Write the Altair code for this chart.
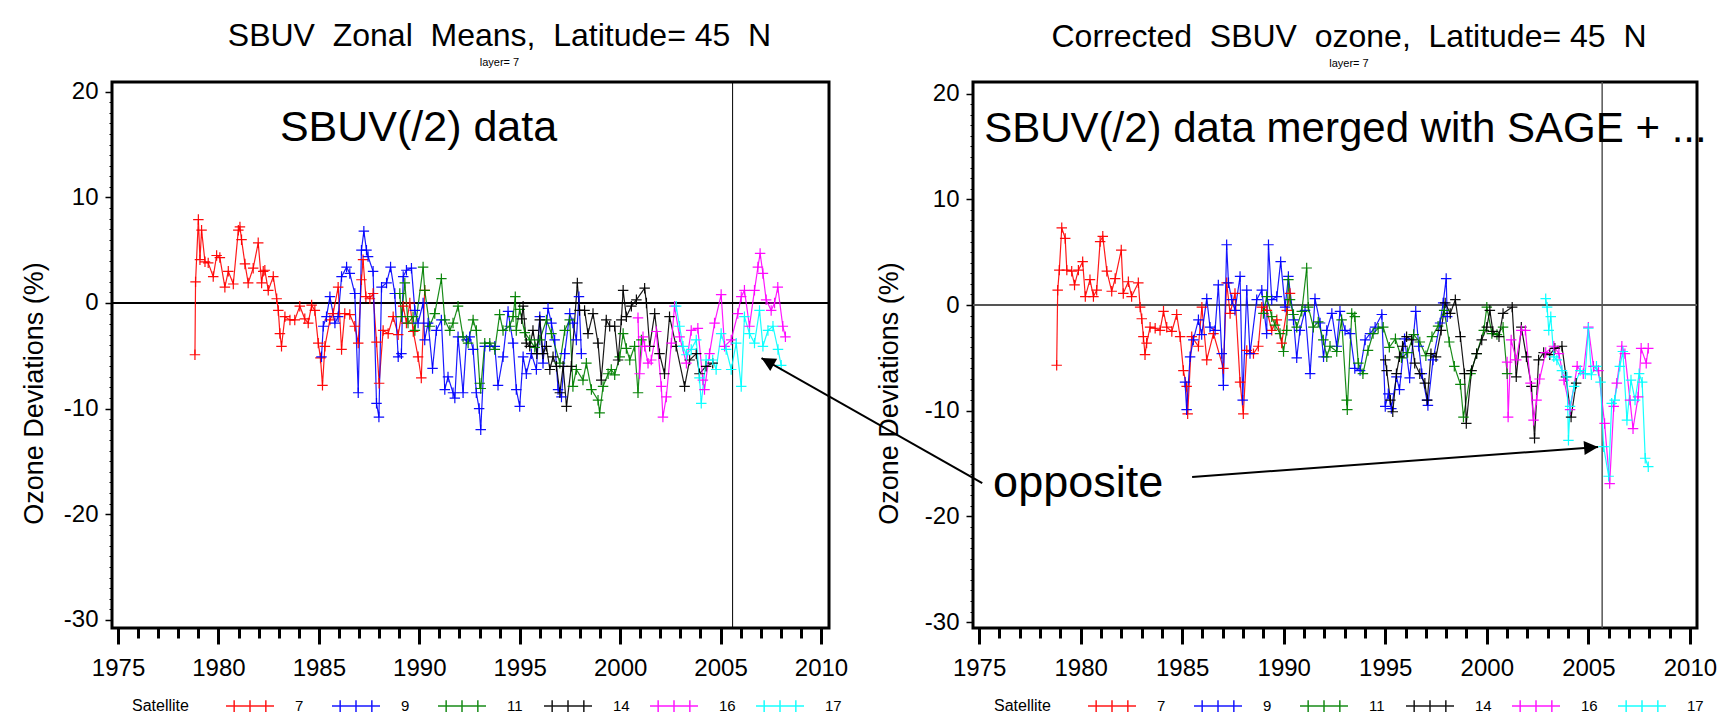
import altair as alt
import pandas as pd

FONT = "Liberation Sans"
SATS = ["7", "9", "11", "14", "16", "17"]
SAT_COLORS = ["#ff0000", "#0000ff", "#008000", "#000000", "#ff00ff", "#00ffff"]

# ---------------- left panel: SBUV zonal means ----------------
L7_T = [1978.83,1978.86,1979.0,1979.08,1979.16,1979.33,1979.49,1979.74,1979.91,1980.07,1980.32,1980.49,1980.74,1980.99,1981.07,1981.15,1981.32,1981.48,1981.73,1981.98,1982.15,1982.23,1982.31,1982.48,1982.73,1982.9,1982.98,1983.06,1983.14,1983.31,1983.56,1983.8,1984.05,1984.3,1984.47,1984.64,1984.8,1984.97,1985.08,1985.18,1985.3,1985.55,1985.71,1985.96,1986.13,1986.29,1986.54,1986.79,1986.96,1987.12,1987.2,1987.34,1987.54,1987.7,1987.87,1988.0,1988.2,1988.45,1988.7,1988.95,1989.2,1989.36,1989.53,1989.7,1989.94,1990.1,1990.27]
L7_V = [-4.9,2.0,7.9,4.1,6.9,3.9,3.8,2.5,4.5,4.3,1.5,3.0,1.8,6.9,7.2,6.0,3.7,1.9,3.3,5.7,1.9,3.0,3.1,1.2,2.5,0.4,-0.7,-2.9,-4.1,-1.3,-1.6,-1.6,-0.3,-1.5,-1.9,-0.2,-0.7,-3.8,-5.2,-7.8,-4.1,-1.6,-1.0,1.5,-4.4,-1.0,-1.1,-2.2,-3.8,2.2,4.1,0.6,0.4,0.9,-3.7,-7.6,-2.6,-2.9,-1.3,-3.0,-0.3,-1.9,0.0,-2.7,-5.1,-7.1,1.2]
L9_T = [1985.13,1985.22,1985.38,1985.55,1985.8,1985.96,1986.13,1986.38,1986.54,1986.79,1986.96,1987.12,1987.24,1987.37,1987.45,1987.7,1987.87,1987.99,1988.12,1988.37,1988.57,1988.78,1988.95,1989.11,1989.2,1989.36,1989.61,1989.78,1989.94,1990.19,1990.27,1990.44,1990.66,1990.85,1991.1,1991.27,1991.43,1991.68,1991.77,1991.93,1992.18,1992.35,1992.51,1992.68,1992.84,1992.98,1993.06,1993.26,1993.51,1993.76,1993.92,1994.17,1994.42,1994.67,1994.83,1995.0,1995.17,1995.33,1995.58,1995.83,1996.0,1996.16,1996.41,1996.58,1996.74,1996.91,1997.08,1997.24,1997.49,1997.65,1997.82,1997.95,1998.07]
L9_V = [-5.1,-2.2,-1.3,0.6,-1.9,-1.3,2.5,3.4,2.8,0.9,-8.5,5.0,6.8,5.0,4.4,3.0,-9.5,-10.8,1.5,1.9,3.4,0.9,-5.1,-4.8,2.5,3.1,3.3,-0.7,-1.9,0.0,-3.5,-1.9,-6.2,-2.6,-1.6,-8.2,-7.0,-8.5,-9.0,-3.2,-8.5,-3.5,-3.2,-4.4,-8.5,-10.0,-12.0,-4.1,-4.1,-4.1,-7.8,-5.1,-0.8,-3.8,-8.2,-9.8,-5.1,-6.7,-4.8,-6.3,-1.3,-5.7,-0.5,-1.9,-3.5,-8.2,-8.9,-4.8,-1.0,-1.9,-3.5,0.6,-4.8]
L11_T = [1989.03,1989.11,1989.28,1989.44,1989.69,1989.78,1990.19,1990.27,1990.52,1990.77,1991.1,1991.27,1991.52,1991.68,1991.93,1992.18,1992.43,1992.68,1992.84,1993.01,1993.06,1993.26,1993.51,1993.76,1994.0,1994.17,1994.5,1994.67,1994.78,1994.83,1995.0,1995.25,1995.5,1995.75,1996.0,1996.33,1996.58,1997.0,1997.24,1997.49,1997.65,1997.82,1998.15,1998.32,1998.57,1998.9,1998.98,1999.15,1999.4,1999.56,1999.73,1999.98,2000.15,2000.31,2000.48,2000.72,2000.89,2001.06]
L11_V = [0.9,-1.3,1.9,-1.9,-1.3,-2.6,3.4,1.2,-2.2,-1.0,2.3,-1.6,-2.6,-1.9,-0.3,-3.2,-3.8,-1.6,-2.6,-7.6,-8.1,-3.8,-3.8,-4.4,-1.1,-2.6,-2.2,-1.3,0.6,-2.6,-0.6,-2.8,-3.5,-4.2,-3.5,-1.6,-2.9,-5.7,-2.6,-1.6,-7.9,-6.3,-7.3,-5.7,-8.2,-9.2,-10.4,-7.9,-6.7,-6.3,-6.8,-5.1,-2.9,-4.3,-5.4,-4.1,-8.5,-3.5]
L14_T = [1995.1,1995.17,1995.33,1995.5,1995.66,1995.85,1996.0,1996.16,1996.33,1996.5,1996.66,1996.83,1997.0,1997.16,1997.33,1997.57,1997.87,1997.98,1998.23,1998.4,1998.65,1998.9,1999.06,1999.31,1999.48,1999.73,1999.9,2000.06,2000.15,2000.31,2000.56,2000.81,2001.22,2001.31,2001.47,2001.72,2001.96,2002.21,2002.46,2002.79,2003.21,2003.46,2003.79,2003.95,2004.28,2004.61]
L14_V = [-1.5,-0.3,-3.8,-4.1,-2.6,-4.8,-1.6,-4.8,-4.1,-6.3,-5.1,-6.0,-8.5,-6.0,-9.8,-6.0,1.9,-0.7,-0.7,-2.9,-1.0,-3.8,-7.3,-1.6,-2.2,-2.2,-5.4,-1.6,1.2,-1.3,-0.3,0.3,1.4,0.0,-4.1,-1.0,-4.8,-6.7,-1.3,-4.1,-7.9,-5.4,-4.8,-6.7,-6.0,-5.7]
L16_T = [2000.89,2000.97,2001.14,2001.22,2001.39,2001.55,2001.8,2002.05,2002.13,2002.3,2002.55,2002.71,2002.96,2003.3,2003.54,2003.87,2004.12,2004.2,2004.45,2004.7,2005.03,2005.2,2005.53,2005.86,2006.03,2006.19,2006.44,2006.69,2006.86,2006.97,2007.11,2007.27,2007.52,2007.69,2007.85,2008.1,2008.23]
L16_V = [-1.4,-6.7,-3.2,-4.1,-5.7,-5.4,-2.7,-7.9,-10.8,-8.9,-3.8,-0.3,-3.2,-5.7,-2.6,-2.4,-7.3,-8.2,-4.8,-1.9,0.8,-4.1,-3.5,-1.0,0.6,1.2,-2.2,1.2,3.4,4.7,2.8,0.3,-0.7,0.0,1.5,-2.2,-3.2]
L17_T = [2002.79,2002.96,2003.13,2003.3,2003.54,2003.79,2003.95,2004.04,2004.28,2004.61,2004.78,2005.03,2005.28,2005.53,2005.78,2006.03,2006.19,2006.44,2006.69,2006.94,2007.11,2007.36,2007.61,2007.86,2008.02]
L17_V = [-0.3,-2.2,-4.1,-4.9,-4.4,-3.5,-7.1,-9.5,-5.4,-5.4,-6.3,-2.9,-4.4,-6.3,-3.8,-7.9,-1.3,-2.9,-3.8,-0.7,-4.1,-2.6,-2.2,-4.4,-5.9]

# ---------------- right panel: corrected SBUV ozone ----------------
R7_T = [1978.82,1978.87,1978.95,1979.07,1979.24,1979.32,1979.56,1979.7,1979.89,1980.1,1980.23,1980.46,1980.63,1980.79,1980.96,1981.09,1981.29,1981.53,1981.7,1982.0,1982.1,1982.35,1982.51,1982.84,1982.93,1983.01,1983.09,1983.17,1983.25,1983.42,1983.67,1983.91,1984.08,1984.24,1984.49,1984.73,1984.9,1985.06,1985.22,1985.27,1985.47,1985.8,1985.97,1986.21,1986.54,1987.03,1987.19,1987.36,1987.6,1987.85,1988.01,1988.18,1988.51,1988.75,1988.92,1989.17,1989.41,1989.66,1989.9,1990.15,1990.31]
R7_V = [-5.7,1.4,3.3,7.3,6.3,3.3,3.2,1.9,3.3,4.1,0.8,2.4,0.8,1.4,6.0,6.5,3.2,1.3,2.5,5.2,1.1,2.2,0.8,2.1,-0.2,-1.3,-3.0,-4.7,-3.6,-2.1,-2.2,-2.4,-0.6,-2.1,-2.5,-0.9,-3.0,-6.2,-7.7,-10.3,-3.0,-3.9,-0.2,-5.2,-2.7,-6.0,2.1,-0.8,1.1,-7.3,-10.3,-4.3,-4.6,-3.9,-0.2,-0.5,-2.4,-1.4,-3.6,-0.5,1.1]
R9_T = [1985.14,1985.22,1985.39,1985.55,1985.8,1985.96,1986.21,1986.37,1986.62,1986.78,1986.95,1987.03,1987.19,1987.28,1987.44,1987.6,1987.85,1987.98,1988.18,1988.34,1988.67,1988.92,1989.16,1989.25,1989.41,1989.66,1989.85,1990.07,1990.23,1990.48,1990.64,1990.8,1991.05,1991.3,1991.54,1991.79,1991.96,1992.12,1992.37,1992.61,1992.77,1993.02,1993.27,1993.5,1993.76,1994.01,1994.25,1994.5,1994.83,1995.0,1995.15,1995.3,1995.55,1995.7,1995.95,1996.2,1996.5,1996.65,1996.8,1997.05,1997.1,1997.35,1997.7,1997.85,1998.0,1998.05]
R9_V = [-7.3,-9.9,-4.9,-3.3,-1.4,-2.8,0.6,-2.1,-2.4,1.9,-4.6,-7.6,5.7,2.1,0.5,-0.5,2.7,-9.0,1.4,-4.6,0.5,1.4,-2.7,5.7,0.5,0.8,4.1,-0.2,2.7,-1.4,-5.0,-2.4,-0.5,-6.5,0.6,-1.7,-4.9,-2.4,-0.8,-3.9,-0.6,-2.4,-2.7,-6.0,-6.2,-3.3,-2.7,-2.1,-0.9,-9.6,-8.4,-9.8,-6.8,-8.0,-3.2,-6.9,-0.6,-3.9,-6.5,-9.0,-9.5,-5.2,-1.7,0.2,2.5,-1.1]
R11_T = [1989.0,1989.16,1989.41,1989.57,1989.82,1989.99,1990.15,1990.23,1990.31,1990.48,1990.64,1990.89,1991.13,1991.21,1991.46,1991.7,1991.95,1992.12,1992.28,1992.61,1992.85,1993.1,1993.13,1993.35,1993.5,1993.67,1993.9,1994.15,1994.4,1994.65,1994.9,1995.2,1995.5,1995.8,1996.1,1996.4,1996.7,1997.0,1997.3,1997.6,1997.9,1998.15,1998.4,1998.7,1998.85,1999.2,1999.5,1999.85,2000.0,2000.25,2000.5,2000.8,2001.0]
R11_V = [-0.8,0.8,-1.1,-1.9,-2.7,-4.4,-2.4,2.4,0.5,-0.9,-2.1,-0.6,3.5,-0.2,-2.1,-1.6,-3.3,-4.9,-3.9,-4.4,-1.4,-9.0,-9.9,-0.8,-1.1,-5.5,-6.5,-4.3,-2.7,-2.2,-2.1,-4.0,-3.2,-5.0,-4.5,-2.8,-3.5,-4.8,-3.0,-2.0,-0.5,-3.5,-5.8,-7.5,-10.6,-6.5,-4.6,-2.4,-0.2,-2.7,-2.8,-2.1,-6.5]
R14_T = [1995.0,1995.07,1995.25,1995.37,1995.55,1995.7,1995.85,1996.05,1996.3,1996.45,1996.7,1996.95,1997.07,1997.25,1997.5,1997.75,1997.95,1998.2,1998.45,1998.7,1998.9,1998.99,1999.25,1999.5,1999.75,2000.0,2000.15,2000.3,2000.6,2000.8,2001.25,2001.45,2001.7,2001.95,2002.2,2002.35,2002.55,2002.8,2003.1,2003.35,2003.7,2003.9,2004.15,2004.4]
R14_V = [-5.2,-6.2,-9.0,-10.1,-6.5,-4.9,-3.9,-3.0,-3.3,-5.5,-6.5,-7.4,-9.0,-4.6,-4.9,-2.4,0.2,-0.8,0.5,-3.0,-6.5,-11.2,-6.2,-4.6,-3.3,-2.1,-0.5,-2.5,-3.0,-0.8,-0.2,-6.8,-2.1,-4.9,-7.7,-12.6,-5.2,-4.5,-4.7,-4.1,-3.9,-6.8,-10.6,-7.4]
R16_T = [2001.0,2001.05,2001.2,2001.45,2001.7,2001.9,2002.15,2002.3,2002.45,2002.6,2002.9,2003.3,2003.55,2003.8,2004.1,2004.45,2004.75,2005.0,2005.25,2005.5,2005.8,2006.05,2006.25,2006.4,2006.65,2006.8,2007.05,2007.2,2007.45,2007.6,2007.85,2007.95]
R16_V = [-5.4,-10.6,-3.3,-5.2,-2.4,-2.4,-7.4,-10.9,-9.0,-7.0,-4.5,-3.9,-4.6,-7.1,-9.9,-5.8,-6.5,-2.1,-5.8,-6.2,-11.2,-16.9,-9.6,-7.4,-3.9,-4.6,-9.0,-11.7,-8.7,-4.1,-5.5,-4.1]
R17_T = [2002.9,2002.97,2003.05,2003.15,2003.3,2003.45,2003.7,2003.95,2004.02,2004.1,2004.3,2004.6,2004.85,2005.0,2005.15,2005.4,2005.6,2005.75,2006.0,2006.15,2006.3,2006.55,2006.7,2006.9,2007.1,2007.3,2007.5,2007.65,2007.8,2007.95]
R17_V = [0.6,-0.2,-2.4,-1.1,-4.9,-5.2,-6.2,-6.8,-12.8,-9.6,-7.7,-6.2,-6.5,-2.2,-6.6,-5.8,-7.3,-13.4,-16.2,-9.3,-9.0,-5.8,-4.4,-10.9,-7.1,-9.0,-6.5,-7.3,-14.5,-15.3]

# reference lines (data units)
REF_YEAR_L = 2005.6
REF_YEAR_R = 2005.68
ZERO = 0

# axis ticks
X_MAJOR = [1975, 1980, 1985, 1990, 1995, 2000, 2005, 2010]
X_MINOR = list(range(1975, 2011))
Y_MAJOR = [-30, -20, -10, 0, 10, 20]
Y_MINOR = list(range(-30, 21))

# titles (wide word spacing as in the original SAS plot)
SP = "\u00a0 "
TITLE_L = "SBUV" + SP + "Zonal" + SP + "Means," + SP + "Latitude= 45" + SP + "N"
TITLE_R = "Corrected" + SP + "SBUV" + SP + "ozone," + SP + "Latitude= 45" + SP + "N"

# annotations (data units of the panel they are drawn in)
NOTE_L_X = [1983.06]
NOTE_L_Y = [15.34]
NOTE_L_T = ["SBUV(/2) data"]
NOTE_L_S = [43]
NOTE_R_X = [1975.25, 1975.69]
NOTE_R_Y = [15.4, -18.16]
NOTE_R_T = ["SBUV(/2) data merged with SAGE + ...", "opposite"]
NOTE_R_S = [42, 45]
ARROW_L = {"x": [2018.03], "y": [-17.05], "x2": [2007.04], "y2": [-5.21], "ang": [299.5]}
ARROW_R = {"x": [1985.49], "y": [-16.27], "x2": [2005.48], "y2": [-13.43], "ang": [85.8]}

CROSS = "M-1,0L1,0M0,-1L0,1"
LEG_SYM = "M-1,0L1,0M-0.66,-0.24L-0.66,0.24M0,-0.24L0,0.24M0.66,-0.24L0.66,0.24"
HEAD = "M0,0L-0.5,1L0.5,1Z"


def series_frame(ts, vs):
    rows = []
    for sat, t, v in zip(SATS, ts, vs):
        for i, (a, b) in enumerate(zip(t, v)):
            rows.append({"year": a, "dev": b, "sat": sat, "ord": i})
    return pd.DataFrame(rows)


def panel(df, title, dx, xdom, ydom, width, ref_year, ref_color, ref_w,
          zero_color, zero_w, notes, arrows, legend_x, ytitle_x):
    xs = alt.Scale(domain=xdom, nice=False, zero=False)
    ys = alt.Scale(domain=ydom, nice=False, zero=False)
    legend = alt.Legend(
        orient="none", legendX=legend_x, legendY=599, direction="horizontal",
        title="Satellite", titleOrient="left", titleFontSize=16, titleFont=FONT,
        titleFontWeight="normal", titleColor="black", titlePadding=36,
        titleAnchor="middle", titleBaseline="top",
        labelFontSize=15, labelFont=FONT, labelColor="black", labelOffset=20,
        symbolType=LEG_SYM, symbolSize=2304, symbolStrokeWidth=1.5,
        columnPadding=17, gridAlign="all", padding=0,
    )
    color = alt.Color("sat:N", scale=alt.Scale(domain=SATS, range=SAT_COLORS), legend=legend)

    x_major = alt.Axis(orient="bottom", values=X_MAJOR, format="d", tickSize=16, tickWidth=3,
                       tickColor="black", labelFontSize=24, labelFont=FONT, labelColor="black",
                       labelPadding=12, domain=False, grid=False, title=None,
                       labelFlush=False, labelOverlap=False)
    x_minor = alt.Axis(orient="bottom", values=X_MINOR, tickSize=10, tickWidth=3, tickColor="black",
                       labels=False, domain=False, grid=False, title=None)
    y_major = alt.Axis(orient="left", values=Y_MAJOR, labelExpr="'' + datum.value", tickSize=7,
                       tickWidth=1.5, tickColor="black", labelFontSize=24, labelFont=FONT,
                       labelColor="black", labelPadding=7, domain=False, grid=False,
                       title="Ozone Deviations (%)", titleFontSize=27, titleFont=FONT,
                       titleFontWeight="normal", titleColor="black", titleX=ytitle_x, titleY=311,
                       titleBaseline="middle", titleAlign="center", titleAngle=270,
                       labelFlush=False, labelOverlap=False)
    y_minor = alt.Axis(orient="left", values=Y_MINOR, tickSize=3, tickWidth=1, tickColor="black",
                       labels=False, domain=False, grid=False, title=None)

    vref = alt.Chart(pd.DataFrame({"yr": [ref_year]})).mark_rule(
        color=ref_color, strokeWidth=ref_w).encode(x=alt.X("yr:Q", scale=xs, axis=x_minor))
    zero = alt.Chart(pd.DataFrame({"v": [ZERO]})).mark_rule(
        color=zero_color, strokeWidth=zero_w).encode(y=alt.Y("v:Q", scale=ys, axis=y_minor))
    lines = alt.Chart(df).mark_line(strokeWidth=1.2, opacity=0.9).encode(
        x=alt.X("year:Q", scale=xs, axis=x_major),
        y=alt.Y("dev:Q", scale=ys, axis=y_major),
        color=color, order=alt.Order("ord:Q"))
    pts = alt.Chart(df).mark_point(shape=CROSS, size=110, filled=False, strokeWidth=1.2,
                                   opacity=0.95).encode(
        x=alt.X("year:Q", scale=xs, axis=None),
        y=alt.Y("dev:Q", scale=ys, axis=None), color=color)
    text = alt.Chart(notes).mark_text(align="left", baseline="alphabetic", font=FONT,
                                      color="black").encode(
        x=alt.X("x:Q", scale=xs, axis=None), y=alt.Y("y:Q", scale=ys, axis=None),
        text="t:N", size=alt.Size("s:Q", scale=None))
    aline = alt.Chart(arrows).mark_rule(color="black", strokeWidth=2).encode(
        x=alt.X("x:Q", scale=xs, axis=None), y=alt.Y("y:Q", scale=ys, axis=None),
        x2="x2:Q", y2="y2:Q")
    ahead = alt.Chart(arrows).mark_point(shape=HEAD, size=784, filled=True, color="black",
                                         opacity=1, strokeWidth=0).encode(
        x=alt.X("x2:Q", scale=xs, axis=None), y=alt.Y("y2:Q", scale=ys, axis=None),
        angle=alt.Angle("ang:Q", scale=None))

    return alt.layer(vref, zero, lines, pts, text, aline, ahead).resolve_axis(
        x="independent", y="independent").properties(
        width=width, height=546,
        title=alt.Title(title, subtitle="layer= 7", fontSize=32, font=FONT, fontWeight="normal",
                        color="black", subtitleFontSize=11, subtitleFont=FONT,
                        subtitleColor="black", anchor="middle", frame="group", dx=dx,
                        offset=11, subtitlePadding=4))


left_df = series_frame([L7_T, L9_T, L11_T, L14_T, L16_T, L17_T],
                       [L7_V, L9_V, L11_V, L14_V, L16_V, L17_V])
right_df = series_frame([R7_T, R9_T, R11_T, R14_T, R16_T, R17_T],
                        [R7_V, R9_V, R11_V, R14_V, R16_V, R17_V])

left = panel(left_df, TITLE_L, 29, [1974.70, 2010.40],
             [-30.78, 20.93], 717, REF_YEAR_L, "black", 1, "black", 1.8,
             pd.DataFrame({"x": NOTE_L_X, "y": NOTE_L_Y, "t": NOTE_L_T, "s": NOTE_L_S}),
             pd.DataFrame(ARROW_L), 20, -78)
right = panel(right_df, TITLE_R, 14, [1974.70, 2010.35],
              [-30.56, 21.10], 724, REF_YEAR_R, "#555555", 1.5, "#555555", 2,
              pd.DataFrame({"x": NOTE_R_X, "y": NOTE_R_Y, "t": NOTE_R_T, "s": NOTE_R_S}),
              pd.DataFrame(ARROW_R), 21, -84)

chart = alt.hconcat(left, right, spacing=144, bounds="flush").resolve_scale(
    color="independent").properties(
    padding={"left": 112, "top": 82, "right": 1608, "bottom": 638},
    autosize=alt.AutoSizeParams(type="none"),
).configure(background="white", font=FONT).configure_view(stroke="black", strokeWidth=3)

chart.save("out.html", embed_options={"renderer": "svg", "actions": False})
